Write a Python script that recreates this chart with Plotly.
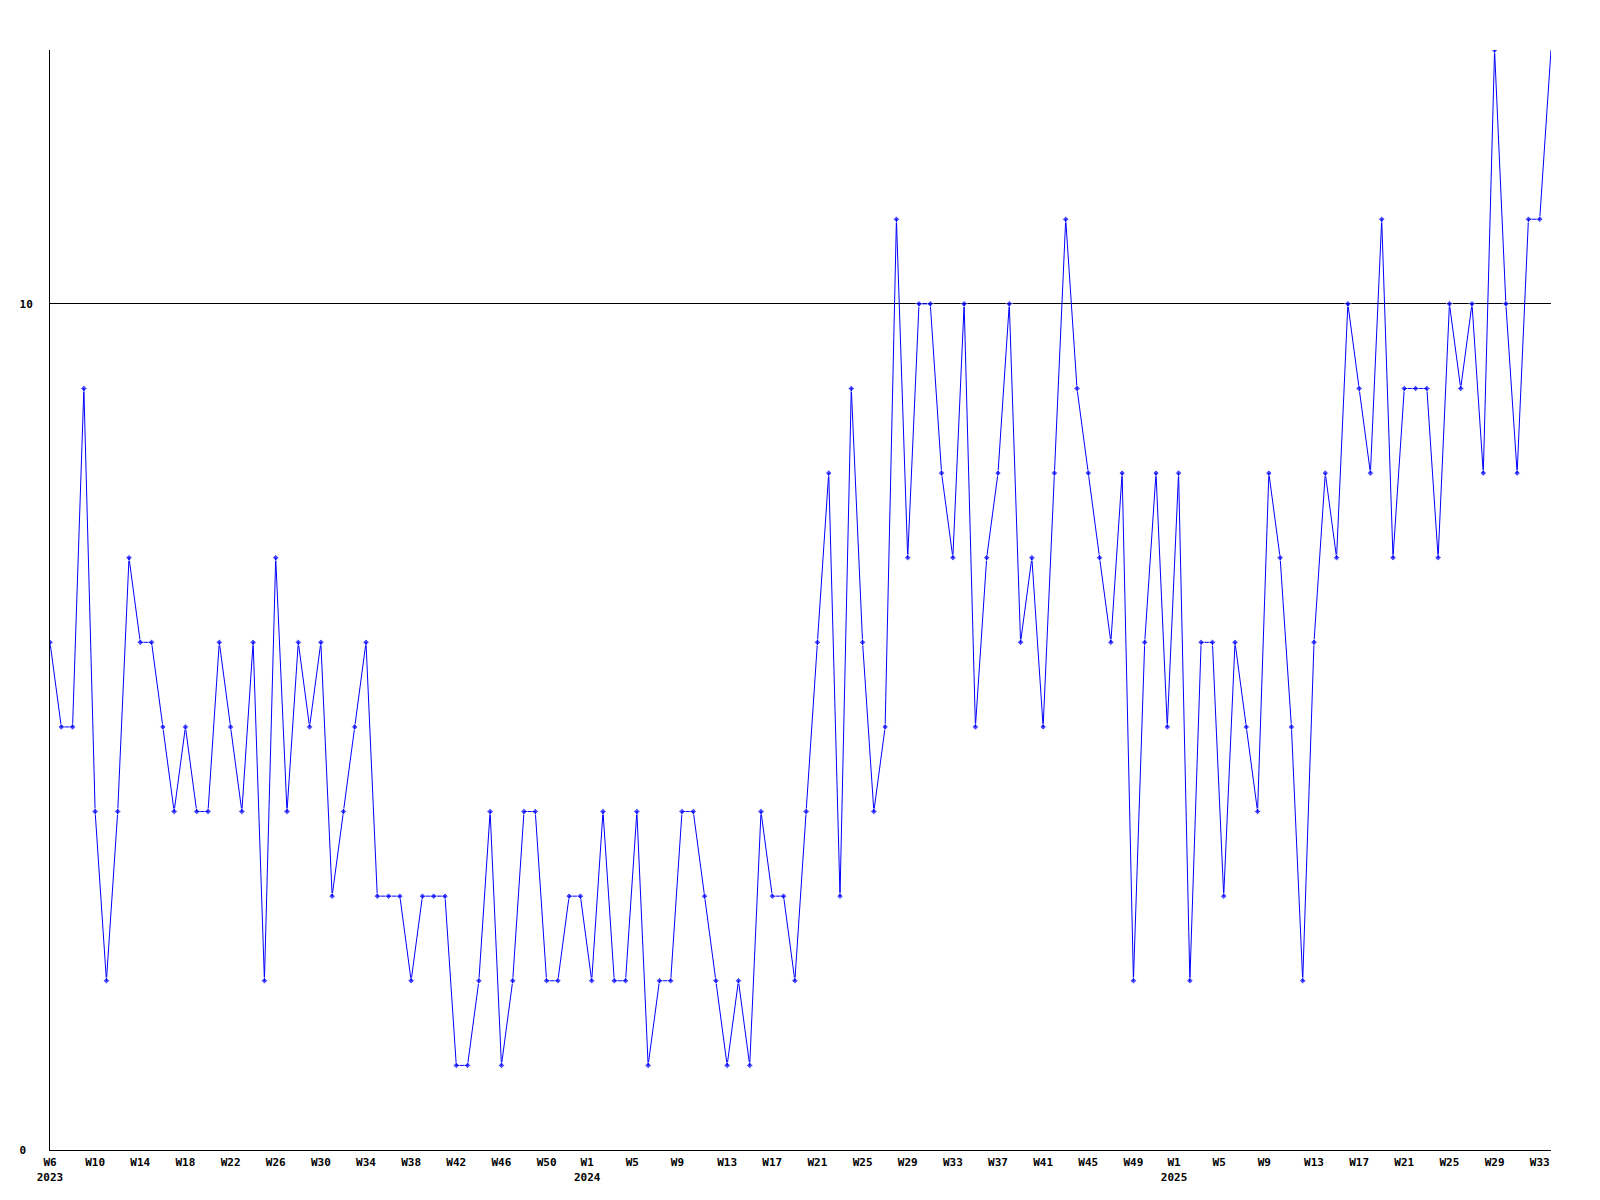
import plotly.graph_objects as go

# Weekly values, W6 2023 .. W34 2025 (one point per week)
values = [6, 5, 5, 9, 4, 2, 4, 7, 6, 6,
          5, 4, 5, 4, 4, 6, 5, 4, 6, 2,
          7, 4, 6, 5, 6, 3, 4, 5, 6, 3,
          3, 3, 2, 3, 3, 3, 1, 1, 2, 4,
          1, 2, 4, 4, 2, 2, 3, 3, 2, 4,
          2, 2, 4, 1, 2, 2, 4, 4, 3, 2,
          1, 2, 1, 4, 3, 3, 2, 4, 6, 8,
          3, 9, 6, 4, 5, 11, 7, 10, 10, 8,
          7, 10, 5, 7, 8, 10, 6, 7, 5, 8,
          11, 9, 8, 7, 6, 8, 2, 6, 8, 5,
          8, 2, 6, 6, 3, 6, 5, 4, 8, 7,
          5, 2, 6, 8, 7, 10, 9, 8, 11, 7,
          9, 9, 9, 7, 10, 9, 10, 8, 13, 10,
          8, 11, 11, 13]

week_index = list(range(len(values)))

tick_text = ["W6<br>2023", "W10", "W14", "W18", "W22", "W26", "W30", "W34", "W38", "W42",
             "W46", "W50", "W1<br>2024", "W5", "W9", "W13", "W17", "W21", "W25", "W29",
             "W33", "W37", "W41", "W45", "W49", "W1<br>2025", "W5", "W9", "W13", "W17",
             "W21", "W25", "W29", "W33"]
# position of each tick label, in weeks from the first point
tick_pos = [0, 4, 8, 12, 16, 20, 24, 28, 32, 36,
            40, 44, 47.6, 51.6, 55.6, 60, 64, 68, 72, 76,
            80, 84, 88, 92, 96, 99.6, 103.6, 107.6, 112, 116,
            120, 124, 128, 132]

y_ticks = [0, 10]
y_tick_text = ["0\u00a0", "10"]

font = dict(family="DejaVu Sans Mono", size=11, color="black", weight="bold")

n = len(values)
sizes = [5] * (n - 1) + [0]

fig = go.Figure()
fig.add_trace(go.Scatter(
    x=week_index, y=values, mode="lines+markers",
    line=dict(color="#0000ff", width=1),
    marker=dict(symbol="diamond", size=sizes, color="#0000ff"),
    hoverinfo="skip", showlegend=False,
))

fig.update_layout(
    width=1600, height=1200,
    margin=dict(l=50, r=49, t=50, b=50),
    paper_bgcolor="white", plot_bgcolor="white",
    font=font,
)
fig.update_xaxes(
    range=[0, n - 1], tickmode="array", tickvals=tick_pos, ticktext=tick_text,
    showline=True, linecolor="black", linewidth=1, showgrid=False, zeroline=False,
    ticks="", tickfont=font, ticklabelstandoff=2,
)
fig.update_yaxes(
    range=[0, 13], tickmode="array", tickvals=y_ticks, ticktext=y_tick_text,
    showline=True, linecolor="black", linewidth=1, showgrid=True, gridcolor="black",
    gridwidth=1, zeroline=False, ticks="", tickfont=font, ticklabelstandoff=14,
)

fig.write_html("out.html", config={"displayModeBar": False},
               post_script="document.body.style.margin='0';")
